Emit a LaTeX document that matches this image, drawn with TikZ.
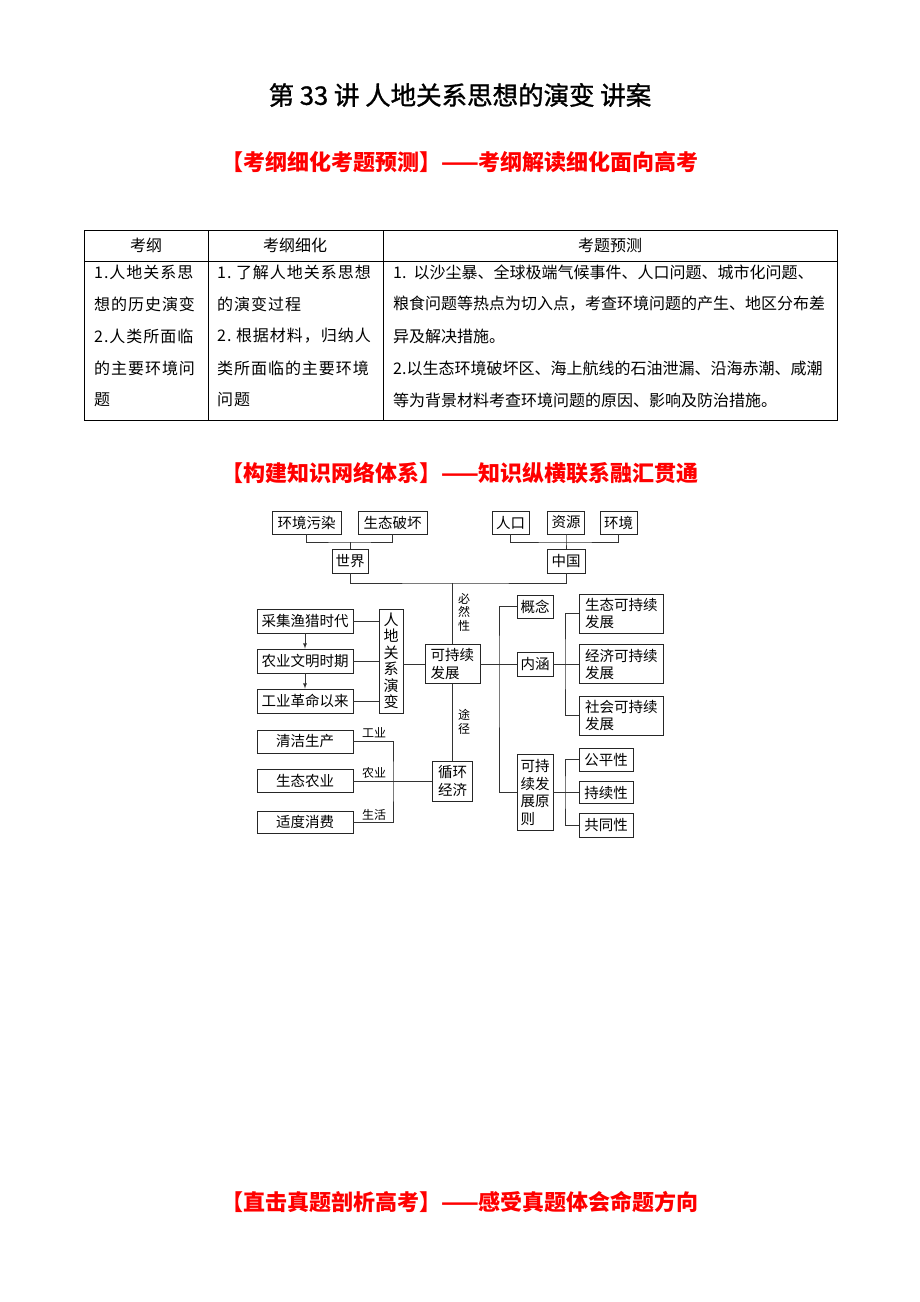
\documentclass[tikz,border=0pt]{standalone}
\usepackage{fontspec}
\setmainfont{Noto Sans CJK SC}
\newfontfamily\cjkwide[LetterSpace=6]{Noto Sans CJK SC}
\newfontfamily\cjkheavy[FakeBold=1.2]{Noto Sans CJK SC}
\usetikzlibrary{arrows}
\newcommand{\setfs}[2]{\fontsize{#1}{#2}\selectfont}

\begin{document}
\begin{tikzpicture}[x=1pt,y=-1pt]
    \tikzstyle{box}=[draw=black!85,line width=0.9pt,inner sep=0pt,font=\setfs{14.5}{18},minimum height=23pt]
    \tikzstyle{link}=[draw=black!80,line width=0.8pt]
    \tikzstyle{heading}=[text=red,inner sep=0pt,font=\setfs{22}{26}\bfseries]
    \tikzstyle{cell}=[anchor=west,inner sep=0pt,font=\setfs{16}{20}]
    \tikzstyle{tag}=[inner sep=0pt,font=\setfs{12}{13.5},align=center]
    \useasboundingbox[fill=white] (0,0) rectangle (920,1302);

    \node[inner sep=0pt,font=\setfs{25.5}{30}\cjkheavy] (Title) at (460,95) {第 33 讲 人地关系思想的演变 讲案};
    \node[heading] (HeadA) at (460,162) {【考纲细化考题预测】——考纲解读细化面向高考};
    \node[heading] (HeadB) at (460,473) {【构建知识网络体系】——知识纵横联系融汇贯通};
    \node[heading] (HeadC) at (460,1202) {【直击真题剖析高考】——感受真题体会命题方向};

    \draw[line width=0.8pt] (84,230) rectangle (837,420);
    \draw[line width=0.8pt] (84,261) -- (837,261) (208,230) -- (208,420) (383,230) -- (383,420);
    \node[cell,anchor=center] (ColA) at (146,245) {考纲};
    \node[cell,anchor=center] (ColB) at (295,245) {考纲细化};
    \node[cell,anchor=center] (ColC) at (610,245) {考题预测};
    \foreach \txt [count=\i] in {1.人地关系思,想的历史演变,2.人类所面临,的主要环境问,题}
      \node[cell,font=\setfs{16}{20}\cjkwide] (A\i) at (94,240+32*\i) {\txt};
    \foreach \txt [count=\i] in {1.\ 了解人地关系思想,的演变过程,2.\ 根据材料，归纳人,类所面临的主要环境,问题}
      \node[cell,font=\setfs{16}{20}\cjkwide] (B\i) at (217,240+32*\i) {\txt};
    \foreach \txt [count=\i] in {1.\ \ 以沙尘暴、全球极端气候事件、人口问题、城市化问题、,粮食问题等热点为切入点，考查环境问题的产生、地区分布差,异及解决措施。,2.以生态环境破坏区、海上航线的石油泄漏、沿海赤潮、咸潮,等为背景材料考查环境问题的原因、影响及防治措施。}
      \node[cell] (C\i) at (393,240+32*\i) {\txt};

    \node[box,minimum width=69pt] (Pollution) at (306.5,522.5) {环境污染};
    \node[box,minimum width=69pt] (Ecology) at (392.5,522.5) {生态破坏};
    \node[box,minimum width=36pt,minimum height=24pt] (World) at (350,561) {世界};
    \node[box,minimum width=37pt] (Population) at (510.5,522.5) {人口};
    \node[box,minimum width=37pt] (Resource) at (566,522.5) {资源};
    \node[box,minimum width=37pt] (Environment) at (618.5,522.5) {环境};
    \node[box,minimum width=38pt,minimum height=24pt] (China) at (566,561) {中国};

    \node[box,minimum height=39pt,text width=44pt,inner xsep=5.5pt,align=left] (Sustain) at (452.5,664) {可持续\\发展};
    \node[box,minimum width=96pt,minimum height=24pt] (Gather) at (305,621) {采集渔猎时代};
    \node[box,minimum width=96pt,minimum height=24pt] (Farm) at (305,661) {农业文明时期};
    \node[box,minimum width=96pt,minimum height=24pt] (Industry) at (305,701) {工业革命以来};
    \node[box,minimum width=24pt,minimum height=104pt,align=center,font=\setfs{15}{16.5}] (Relation) at (391,661) {人\\地\\关\\系\\演\\变};

    \node[box,minimum width=36pt] (Concept) at (535,606.5) {概念};
    \node[box,minimum width=36pt,minimum height=24pt] (Connotation) at (535,664) {内涵};
    \node[box,minimum height=76pt,text width=29pt,inner xsep=3.5pt,align=left,font=\setfs{14.5}{17.5}] (Principle) at (535,792.5) {可持\\续发\\展原\\则};
    \node[box,minimum height=39pt,text width=72pt,inner xsep=6pt,align=left,font=\setfs{14.5}{17}] (EcoSus) at (621,613.5) {生态可持续\\发展};
    \node[box,minimum height=39pt,text width=72pt,inner xsep=6pt,align=left,font=\setfs{14.5}{17}] (EconSus) at (621,664) {经济可持续\\发展};
    \node[box,minimum height=39pt,text width=72pt,inner xsep=6pt,align=left,font=\setfs{14.5}{17}] (SocSus) at (621,715.5) {社会可持续\\发展};
    \node[box,minimum width=54pt] (Fair) at (606,759.5) {公平性};
    \node[box,minimum width=54pt,minimum height=22pt] (Lasting) at (606,792.5) {持续性};
    \node[box,minimum width=54pt,minimum height=24pt] (Common) at (606,825) {共同性};

    \node[box,minimum height=40pt,text width=29pt,inner xsep=5.5pt,align=left] (Cycle) at (452.5,781) {循环\\经济};
    \node[box,minimum width=96pt] (Clean) at (305,741.5) {清洁生产};
    \node[box,minimum width=96pt] (EcoFarm) at (305,781) {生态农业};
    \node[box,minimum width=96pt,minimum height=22pt] (Moderate) at (305,822) {适度消费};

    \node[tag] (Must) at (464,612) {必\\然\\性};
    \node[tag] (Way) at (464,722) {途\\径};
    \node[tag] (IndTag) at (374,733) {工业};
    \node[tag] (AgrTag) at (374,773) {农业};
    \node[tag] (LifeTag) at (374,815) {生活};

    \coordinate (TopL) at (350,542);
    \coordinate (TopR) at (566,542);
    \coordinate (Split) at (452.5,583);
    \coordinate (MidA) at (499,664);
    \coordinate (MidB) at (565,664);
    \coordinate (MidC) at (565,792.5);
    \coordinate (MidD) at (393,781);

    \draw[link] (Pollution.south) |- (TopL) -| (Ecology.south);
    \draw[link] (TopL) -- (World.north);
    \draw[link] (Population.south) |- (TopR) -| (Environment.south);
    \draw[link] (Resource.south) -- (TopR) -- (China.north);
    \draw[link] (World.south) |- (Split) -| (China.south);
    \draw[link] (Split) -- (Sustain.north);
    \draw[link] (Sustain.south) -- (Cycle.north);
    \draw[link] (Gather.east) -- (Relation.west |- Gather.east);
    \draw[link] (Farm.east) -- (Relation.west |- Farm.east);
    \draw[link] (Industry.east) -- (Relation.west |- Industry.east);
    \draw[link,-latex] (Gather.south) -- (Farm.north);
    \draw[link,-latex] (Farm.south) -- (Industry.north);
    \draw[link] (Relation.east |- Sustain.west) -- (Sustain.west);
    \draw[link] (Sustain.east) -- (Connotation.west);
    \draw[link] (Concept.west) -| (MidA) |- (Principle.west);
    \draw[link] (Connotation.east) -- (EconSus.west);
    \draw[link] (EcoSus.west) -| (MidB) |- (SocSus.west);
    \draw[link] (Principle.east) -- (Lasting.west);
    \draw[link] (Fair.west) -| (MidC) |- (Common.west);
    \draw[link] (Clean.east) -| (MidD) |- (Moderate.east);
    \draw[link] (EcoFarm.east) -- (Cycle.west);
\end{tikzpicture}
\end{document}
